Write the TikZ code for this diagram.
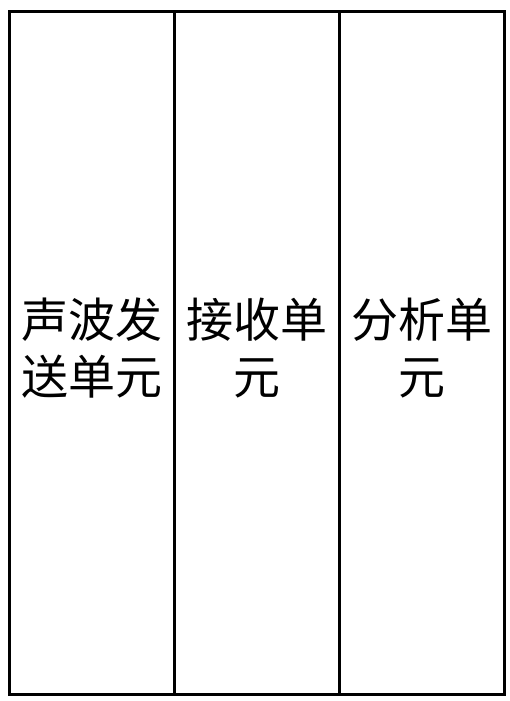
\documentclass[tikz,border=0pt]{standalone}
\usepackage{fontspec}
\newfontfamily\cjk{Noto Sans CJK SC}
\tikzset{
  unitbox/.style={draw, line width=3pt, minimum width=165pt, minimum height=683pt, inner sep=0pt, outer sep=0pt},
  unitlabel/.style={font=\cjk\fontsize{47}{57}\selectfont, align=center, inner sep=0pt}
}

\begin{document}
\begin{tikzpicture}[x=1pt,y=-1pt]
\useasboundingbox (0,0) rectangle (510,701);

% three units side by side
\node[unitbox] (send) at (92,353) {};
\node[unitbox] (recv) at (257,353) {};
\node[unitbox] (anal) at (422,353) {};

\node[unitlabel] (sendtext) at (send.center) [yshift=5pt] {声波发\\送单元};
\node[unitlabel] (recvtext) at (recv.center) [yshift=5pt] {接收单\\元};
\node[unitlabel] (analtext) at (anal.center) [yshift=5pt] {分析单\\元};

\end{tikzpicture}
\end{document}
